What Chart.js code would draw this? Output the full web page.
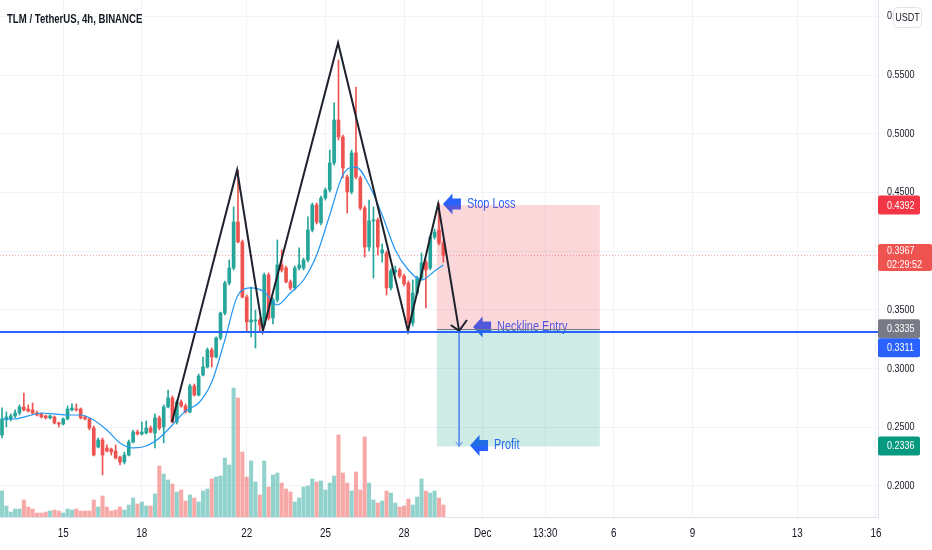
<!DOCTYPE html>
<html>
<head>
<meta charset="utf-8">
<title>TLM / TetherUS, 4h, BINANCE</title>
<script src="https://cdn.jsdelivr.net/npm/chart.js@4.4.1/dist/chart.umd.min.js"></script>
<style>
  html, body { margin: 0; padding: 0; background: #ffffff; }
  #wrap { width: 932px; height: 550px; }
</style>
</head>
<body>
<div id="wrap"><canvas id="tlmChart" width="932" height="550"></canvas></div>
<script>
// 4h candles, index 0 = Nov 12 16:00
var opens = [
  0.2434, 0.2562, 0.2570, 0.2596, 0.2621, 0.2672, 0.2655, 0.2647, 0.2621, 0.2613,
  0.2596, 0.2579, 0.2587, 0.2536, 0.2527, 0.2570, 0.2647, 0.2655, 0.2655, 0.2587,
  0.2570, 0.2493, 0.2332, 0.2391, 0.2323, 0.2314, 0.2297, 0.2246, 0.2204, 0.2263,
  0.2374, 0.2459, 0.2442, 0.2451, 0.2493, 0.2451, 0.2579, 0.2502, 0.2672, 0.2749,
  0.2544, 0.2715, 0.2681, 0.2630, 0.2851, 0.2774, 0.2945, 0.3013, 0.3158, 0.3098,
  0.3260, 0.3473, 0.3728, 0.3856, 0.4248, 0.4078, 0.3609, 0.3396, 0.3405, 0.3413,
  0.3371, 0.3797, 0.3430, 0.3584, 0.3882, 0.3856, 0.3737, 0.3686, 0.3856, 0.3856,
  0.3924, 0.4180, 0.4393, 0.4240, 0.4452, 0.4521, 0.4751, 0.5117, 0.4972, 0.4631,
  0.4504, 0.4836, 0.4623, 0.4367, 0.4035, 0.4257, 0.4265, 0.3984, 0.3984, 0.3686,
  0.3822, 0.3839, 0.3788, 0.3728, 0.3388, 0.3643, 0.3771, 0.3907, 0.3856, 0.4120,
  0.4180, 0.4069
];
var highs = [
  0.2664, 0.2630, 0.2613, 0.2647, 0.2689, 0.2791, 0.2689, 0.2706, 0.2638, 0.2621,
  0.2604, 0.2604, 0.2596, 0.2544, 0.2579, 0.2681, 0.2698, 0.2698, 0.2664, 0.2596,
  0.2579, 0.2510, 0.2408, 0.2408, 0.2349, 0.2323, 0.2349, 0.2255, 0.2289, 0.2391,
  0.2476, 0.2476, 0.2544, 0.2553, 0.2510, 0.2613, 0.2596, 0.2689, 0.2817, 0.2766,
  0.2732, 0.2732, 0.2698, 0.2868, 0.2868, 0.2953, 0.3098, 0.3175, 0.3175, 0.3269,
  0.3481, 0.3745, 0.3924, 0.4376, 0.4691, 0.4095, 0.3626, 0.3694, 0.3498, 0.3430,
  0.3814, 0.3814, 0.3601, 0.4095, 0.4010, 0.3873, 0.3754, 0.3873, 0.4027, 0.3941,
  0.4291, 0.4410, 0.4410, 0.4469, 0.4538, 0.4861, 0.5262, 0.5628, 0.4989, 0.4648,
  0.4861, 0.5398, 0.4640, 0.4384, 0.4435, 0.4376, 0.4282, 0.4061, 0.4001, 0.3848,
  0.3873, 0.3856, 0.3805, 0.3745, 0.3754, 0.3788, 0.3984, 0.3924, 0.4137, 0.4188,
  0.4410, 0.4086
];
var lows = [
  0.2408, 0.2502, 0.2553, 0.2579, 0.2604, 0.2638, 0.2630, 0.2613, 0.2596, 0.2579,
  0.2570, 0.2570, 0.2527, 0.2502, 0.2519, 0.2562, 0.2638, 0.2638, 0.2570, 0.2562,
  0.2476, 0.2255, 0.2323, 0.2093, 0.2289, 0.2263, 0.2229, 0.2178, 0.2187, 0.2255,
  0.2366, 0.2434, 0.2434, 0.2442, 0.2451, 0.2323, 0.2476, 0.2366, 0.2664, 0.2536,
  0.2527, 0.2672, 0.2621, 0.2621, 0.2766, 0.2766, 0.2936, 0.3004, 0.3013, 0.3090,
  0.3243, 0.3456, 0.3711, 0.3839, 0.4069, 0.3601, 0.3311, 0.3269, 0.3175, 0.3311,
  0.3362, 0.3413, 0.3379, 0.3567, 0.3822, 0.3728, 0.3669, 0.3669, 0.3839, 0.3839,
  0.3907, 0.4163, 0.4231, 0.4223, 0.4435, 0.4504, 0.4733, 0.4946, 0.4623, 0.4325,
  0.4487, 0.4614, 0.4350, 0.3950, 0.4001, 0.3771, 0.3967, 0.3907, 0.3626, 0.3669,
  0.3805, 0.3771, 0.3703, 0.3354, 0.3362, 0.3626, 0.3754, 0.3516, 0.3839, 0.4103,
  0.4052, 0.3907
];
var closes = [
  0.2570, 0.2587, 0.2596, 0.2621, 0.2672, 0.2647, 0.2638, 0.2621, 0.2604, 0.2587,
  0.2579, 0.2596, 0.2536, 0.2527, 0.2570, 0.2655, 0.2664, 0.2647, 0.2579, 0.2570,
  0.2493, 0.2263, 0.2391, 0.2263, 0.2297, 0.2289, 0.2238, 0.2204, 0.2263, 0.2374,
  0.2459, 0.2442, 0.2459, 0.2493, 0.2459, 0.2579, 0.2493, 0.2672, 0.2749, 0.2544,
  0.2715, 0.2681, 0.2630, 0.2851, 0.2774, 0.2936, 0.3013, 0.3158, 0.3098, 0.3260,
  0.3473, 0.3728, 0.3856, 0.4248, 0.4078, 0.3609, 0.3396, 0.3413, 0.3413, 0.3371,
  0.3797, 0.3430, 0.3584, 0.3882, 0.3839, 0.3737, 0.3686, 0.3856, 0.3882, 0.3924,
  0.4180, 0.4393, 0.4248, 0.4452, 0.4521, 0.4751, 0.5117, 0.4972, 0.4708, 0.4504,
  0.4836, 0.4631, 0.4367, 0.4035, 0.4257, 0.4265, 0.4035, 0.4010, 0.3686, 0.3831,
  0.3839, 0.3788, 0.3720, 0.3388, 0.3643, 0.3771, 0.3899, 0.3839, 0.4120, 0.4163,
  0.4069, 0.3967
];
// volume, millions TLM
var volumes = [
  2.6, 1.1, 0.5, 0.8, 0.8, 1.7, 1.0, 0.8, 0.4, 0.4,
  0.5, 0.6, 0.7, 0.6, 0.4, 0.8, 0.7, 0.8, 0.6, 0.6,
  0.6, 1.7, 1.0, 2.1, 1.0, 0.6, 0.7, 1.0, 0.7, 1.2,
  1.9, 1.3, 1.5, 1.1, 1.1, 2.3, 5.1, 4.3, 3.7, 3.3,
  2.5, 2.7, 1.6, 2.2, 1.9, 1.5, 2.6, 2.8, 3.8, 4.0,
  4.1, 5.9, 5.2, 12.9, 11.9, 6.5, 4.0, 5.6, 3.5, 2.2,
  5.6, 3.0, 4.2, 4.4, 3.4, 2.8, 2.5, 1.5, 1.9, 3.0,
  3.1, 3.8, 3.5, 3.6, 2.7, 3.4, 4.1, 8.2, 4.4, 3.4,
  2.6, 4.5, 2.7, 8.0, 3.4, 1.7, 1.4, 1.6, 2.6, 2.4,
  1.4, 1.0, 1.1, 1.8, 1.2, 2.0, 3.8, 2.6, 2.4, 2.6,
  1.9, 1.2
];
// moving average
var maIndex = [0, 3, 6, 9, 12, 15, 18, 21, 24, 27, 30, 33, 36, 39, 42, 45, 48, 51, 54,
  57, 60, 63, 66, 69, 72, 75, 78, 81, 84, 87, 90, 93, 96, 99, 101];
var maValues = [0.2570, 0.2570, 0.2596, 0.2621, 0.2613, 0.2604, 0.2604, 0.2562, 0.2476,
  0.2366, 0.2323, 0.2340, 0.2408, 0.2519, 0.2638, 0.2706, 0.2885, 0.3243, 0.3626,
  0.3686, 0.3652, 0.3541, 0.3643, 0.3754, 0.3967, 0.4308, 0.4648, 0.4716, 0.4563,
  0.4308, 0.4010, 0.3839, 0.3754, 0.3831, 0.3882];

var tickIndex = [14, 32, 56, 74, 92, 110, 124.3, 140, 158, 182, 200];
var tickText = ['15', '18', '22', '25', '28', 'Dec', '13:30', '6', '9', '13', '16'];
var priceTicks = [0.20, 0.25, 0.30, 0.35, 0.40, 0.45, 0.50, 0.55, 0.60];

// head & shoulders drawing
var patternX = [38.9, 53.8, 59.7, 76.9, 92.9, 99.8, 104.6];
var patternY = [0.2544, 0.4691, 0.3320, 0.5773, 0.3320, 0.4401, 0.3320];
var arrowHeadX = [102.7, 104.6, 106.4];
var arrowHeadY = [0.3371, 0.3320, 0.3413];

var stopLoss = 0.4392;
var entryPrice = 0.3335;
var necklinePrice = 0.3311;
var targetPrice = 0.2336;
var lastPrice = 0.3967;
var countdown = '02:29:52';
var zoneFrom = 99.5, zoneTo = 136.8;
var noteText = ['Stop Loss', 'Neckline Entry', 'Profit'];
var noteX = [100.9, 107.8, 107.1];
var noteY = [0.4401, 0.3354, 0.2344];

var UP = '#26a69a', DOWN = '#ef5350';
var FONT = "'Liberation Sans', Arial, sans-serif";

var bodies = [], wicks = [], vols = [], candleColors = [], volColors = [];
opens.forEach(function(o, i) {
    var up = closes[i] >= o;
    bodies.push({ x: i, y: [o, closes[i]] });
    wicks.push({ x: i, y: [lows[i], highs[i]] });
    vols.push({ x: i, y: volumes[i] });
    candleColors.push(up ? UP : DOWN);
    volColors.push(up ? 'rgba(38, 166, 154, 0.5)' : 'rgba(239, 83, 80, 0.5)');
});
var maPoints = maIndex.map(function(x, k) { return { x: x, y: maValues[k] }; });
var patternPoints = patternX.map(function(x, k) { return { x: x, y: patternY[k] }; });
var headPoints = arrowHeadX.map(function(x, k) { return { x: x, y: arrowHeadY[k] }; });
var profitLine = [{ x: 104.6, y: necklinePrice }, { x: 104.6, y: targetPrice }];
var profitHead = [{ x: 103.85, y: targetPrice + 0.0040 }, { x: 104.6, y: targetPrice }, { x: 105.35, y: targetPrice + 0.0040 }];

// the reference text is horizontally squeezed, so text is drawn with an x scale
function narrowText(ctx, text, x, y, font, sx, align, color) {
    ctx.save();
    ctx.font = font;
    ctx.fillStyle = color;
    ctx.textAlign = align;
    ctx.textBaseline = 'middle';
    ctx.translate(x, y);
    ctx.scale(sx, 1);
    ctx.fillText(text, 0, 0);
    ctx.restore();
}

function blockArrow(ctx, tx, ty) {
    ctx.beginPath();
    ctx.moveTo(tx, ty);
    ctx.lineTo(tx + 9.5, ty - 10.5);
    ctx.lineTo(tx + 9.5, ty - 5.5);
    ctx.lineTo(tx + 18, ty - 5.5);
    ctx.lineTo(tx + 18, ty + 5.5);
    ctx.lineTo(tx + 9.5, ty + 5.5);
    ctx.lineTo(tx + 9.5, ty + 10.5);
    ctx.closePath();
    ctx.fill();
}

function priceBox(ctx, left, top, w, h, bg, lines) {
    ctx.fillStyle = bg;
    ctx.beginPath();
    ctx.roundRect(left, top, w, h, 2);
    ctx.fill();
    var step = h / lines.length;
    lines.forEach(function(t, k) {
        narrowText(ctx, t, left + 9, top + step * k + step / 2 + 0.5, '11px ' + FONT, 0.82, 'left', '#ffffff');
    });
}

var tradeOverlay = {
    id: 'tradeOverlay',
    beforeDatasetsDraw: function(chart) {
        var ctx = chart.ctx, a = chart.chartArea, y = chart.scales.y;
        var py = Math.round(y.getPixelForValue(lastPrice)) + 0.5;
        ctx.save();
        ctx.strokeStyle = 'rgba(239, 83, 80, 0.5)';
        ctx.lineWidth = 1;
        ctx.setLineDash([1, 2]);
        ctx.beginPath();
        ctx.moveTo(a.left, py);
        ctx.lineTo(a.right, py);
        ctx.stroke();
        ctx.restore();
    },
    afterDatasetDraw: function(chart, args) {
        if (chart.data.datasets[args.index].label !== 'Candles') return;
        var ctx = chart.ctx, x = chart.scales.x, y = chart.scales.y;
        ctx.save();
        // blue callouts sit under the position zones
        noteText.forEach(function(t, k) {
            var tx = x.getPixelForValue(noteX[k]);
            var ty = y.getPixelForValue(noteY[k]);
            ctx.fillStyle = '#2962ff';
            blockArrow(ctx, tx, ty);
            narrowText(ctx, t, tx + 24, ty, '14px ' + FONT, 0.78, 'left', '#2962ff');
        });
        var x0 = x.getPixelForValue(zoneFrom), x1 = x.getPixelForValue(zoneTo);
        var ySL = y.getPixelForValue(stopLoss), yEn = y.getPixelForValue(entryPrice), yTp = y.getPixelForValue(targetPrice);
        ctx.fillStyle = 'rgba(242, 54, 69, 0.2)';
        ctx.fillRect(x0, ySL, x1 - x0, yEn - ySL);
        ctx.fillStyle = 'rgba(8, 153, 129, 0.2)';
        ctx.fillRect(x0, yEn, x1 - x0, yTp - yEn);
        ctx.strokeStyle = '#787b86';
        ctx.lineWidth = 1;
        ctx.beginPath();
        ctx.moveTo(x0, Math.round(yEn) + 0.5);
        ctx.lineTo(x1, Math.round(yEn) + 0.5);
        ctx.stroke();
        ctx.restore();
    },
    afterDatasetsDraw: function(chart) {
        var ctx = chart.ctx, a = chart.chartArea, y = chart.scales.y;
        var py = y.getPixelForValue(necklinePrice);
        ctx.save();
        ctx.strokeStyle = '#2962ff';
        ctx.lineWidth = 2;
        ctx.beginPath();
        ctx.moveTo(a.left, py);
        ctx.lineTo(a.right, py);
        ctx.stroke();
        ctx.restore();
    },
    afterDraw: function(chart) {
        var ctx = chart.ctx, a = chart.chartArea, x = chart.scales.x, y = chart.scales.y;
        var L = a.right;
        ctx.save();
        // axis labels
        priceTicks.forEach(function(v) {
            narrowText(ctx, v.toFixed(4), L + 9, y.getPixelForValue(v), '11px ' + FONT, 0.82, 'left', '#131722');
        });
        tickIndex.forEach(function(v, k) {
            narrowText(ctx, tickText[k], x.getPixelForValue(v), a.bottom + 17, '12px ' + FONT, 0.82, 'center', '#131722');
        });

        priceBox(ctx, L, y.getPixelForValue(stopLoss) - 9.5, 42, 19, '#f23645', [stopLoss.toFixed(4)]);
        priceBox(ctx, L, y.getPixelForValue(lastPrice) - 11, 54, 27, '#ef5350', [lastPrice.toFixed(4), countdown]);
        var yE = y.getPixelForValue(entryPrice);
        priceBox(ctx, L, yE - 10, 42, 19, '#787b86', [entryPrice.toFixed(4)]);
        priceBox(ctx, L, yE + 9, 42, 19, '#2962ff', [necklinePrice.toFixed(4)]);
        priceBox(ctx, L, y.getPixelForValue(targetPrice) - 10, 42, 19, '#089981', [targetPrice.toFixed(4)]);

        // currency badge over the top tick
        ctx.fillStyle = '#ffffff';
        ctx.strokeStyle = '#e0e3eb';
        ctx.lineWidth = 1;
        ctx.beginPath();
        ctx.roundRect(893.5, 7.5, 28, 20, 4);
        ctx.fill();
        ctx.stroke();
        narrowText(ctx, 'USDT', 907.5, 18, '11px ' + FONT, 0.82, 'center', '#131722');

        narrowText(ctx, 'TLM / TetherUS, 4h, BINANCE', 7, 20, 'bold 12px ' + FONT, 0.8, 'left', '#131722');
        ctx.restore();
    }
};

Chart.defaults.font.family = FONT;
Chart.defaults.font.size = 12;
Chart.defaults.color = '#131722';

var ctx = document.getElementById('tlmChart');
var chart = new Chart(ctx, {
    type: 'bar',
    data: {
        datasets: [
            {
                type: 'line', label: 'Profit arrow head', data: profitHead,
                borderColor: '#5b8def', borderWidth: 1, pointRadius: 0, order: 0
            },
            {
                type: 'line', label: 'Profit arrow', data: profitLine,
                borderColor: '#5b8def', borderWidth: 1, pointRadius: 0, order: 0
            },
            {
                type: 'line', label: 'Arrow head', data: headPoints,
                borderColor: '#1e222d', borderWidth: 2, pointRadius: 0, order: 1
            },
            {
                type: 'line', label: 'Pattern', data: patternPoints,
                borderColor: '#1e222d', borderWidth: 2, pointRadius: 0, order: 1
            },
            {
                type: 'line', label: 'MA', data: maPoints,
                borderColor: '#2196f3', borderWidth: 1.2, pointRadius: 0,
                cubicInterpolationMode: 'monotone', order: 2
            },
            {
                label: 'Candles', data: bodies, backgroundColor: candleColors,
                barThickness: 3, minBarLength: 1, grouped: false, order: 3
            },
            {
                label: 'Wicks', data: wicks, backgroundColor: candleColors,
                barThickness: 1, grouped: false, order: 4
            },
            {
                label: 'Volume', data: vols, backgroundColor: volColors,
                barThickness: 3.4, grouped: false, yAxisID: 'yv', order: 5
            }
        ]
    },
    options: {
        responsive: false,
        animation: false,
        layout: { padding: 0 },
        plugins: { legend: { display: false }, tooltip: { enabled: false } },
        scales: {
            x: {
                type: 'linear',
                min: -0.46,
                max: 200.46,
                offset: false,
                grid: { color: '#f0f3fa', drawTicks: false, offset: false },
                border: { color: '#e0e3eb' },
                ticks: { display: false },
                afterBuildTicks: function(s) {
                    s.ticks = tickIndex.map(function(v) { return { value: v }; });
                },
                afterFit: function(s) { s.height = 33; }
            },
            y: {
                position: 'right',
                min: 0.1735,
                max: 0.6139,
                grid: { color: '#f0f3fa', drawTicks: false },
                border: { color: '#e0e3eb' },
                ticks: { display: false },
                afterBuildTicks: function(s) {
                    s.ticks = priceTicks.map(function(v) { return { value: v }; });
                },
                afterFit: function(s) { s.width = 54; }
            },
            yv: {
                display: false,
                min: 0,
                max: 51.7
            }
        }
    },
    plugins: [tradeOverlay]
});
</script>
</body>
</html>
